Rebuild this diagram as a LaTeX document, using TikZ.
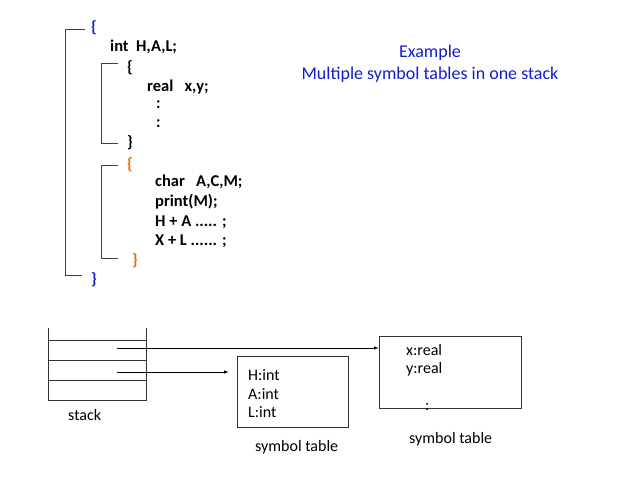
\documentclass[tikz,border=0pt]{standalone}
\usepackage{fontspec}
\setmainfont{Carlito}
\definecolor{cblue}{RGB}{20,30,200}
\definecolor{corange}{RGB}{228,108,10}
\begin{document}
\begin{tikzpicture}[x=1pt,y=-1pt,
  code/.style={font=\bfseries\fontsize{16.5}{19}\selectfont,anchor=west,inner sep=0},
  txt/.style={font=\fontsize{16}{19}\selectfont,anchor=west,inner sep=0},
  brk/.style={draw=black!75,line width=0.9pt},
  box/.style={draw=black!80,line width=0.8pt},
  arr/.style={-latex,line width=0.6pt}]
\useasboundingbox (0,0) rectangle (638,478);
% code
\node[code,text=cblue] (o1) at (91,28) {\{};
\node[code] (l1) at (110,47) {int\ \ H,A,L;};
\node[code] (i1) at (127,68) {\{};
\node[code] (l2) at (147,87) {real\ \ \ x,y;};
\node[code] (d1) at (156,105) {:};
\node[code] (d2) at (156,124) {:};
\node[code] (i1e) at (127,143) {\}};
\node[code,text=corange] (i2) at (127,165) {\{};
\node[code] (l3) at (155,182) {char\ \ \ A,C,M;};
\node[code] (l4) at (155,202) {print(M);};
\node[code] (l5) at (155,222) {H + A ..... ;};
\node[code] (l6) at (155,241) {X + L ...... ;};
\node[code,text=corange] (i2e) at (132,261) {\}};
\node[code,text=cblue] (o1e) at (91,280) {\}};
\draw[brk] (85,29) -- (65,29) -- (65,275) -- (82,275);
\draw[brk] (118,63) -- (101,63) -- (101,143) -- (118,143);
\draw[brk] (118,165) -- (101,165) -- (101,258) -- (118,258);
% title
\node[font=\fontsize{18}{21}\selectfont,text=cblue] (t1) at (430,53) {Example};
\node[font=\fontsize{18}{21}\selectfont,text=cblue] (t2) at (430,75) {Multiple symbol tables in one stack};
% stack
\draw[box] (48,328) -- (48,400) -- (146,400) -- (146,328);
\draw[box] (48,340) -- (146,340);
\draw[box] (48,360) -- (146,360);
\draw[box] (48,380) -- (146,380);
\node[txt] (st) at (68,415) {stack};
\coordinate (s1) at (117,348);
\coordinate (s2) at (117,372);
% tables
\node[box,minimum width=111,minimum height=71,inner sep=0] (b1) at (292.5,391.5) {};
\node[box,minimum width=142,minimum height=72,inner sep=0] (b2) at (450,372) {};
\node[txt] at (248,375) {H:int};
\node[txt] at (248,394) {A:int};
\node[txt] at (248,412) {L:int};
\node[txt] at (406,350) {x:real};
\node[txt] at (406,369) {y:real};
\node[txt] at (425,407) {:};
\node[txt] (c1) at (255,447) {symbol table};
\node[txt] (c2) at (409,439) {symbol table};
\draw[arr] (s1) -- (b2.west |- s1);
\draw[arr] (s2) -- ([xshift=-8pt]b1.west |- s2);
\end{tikzpicture}
\end{document}
